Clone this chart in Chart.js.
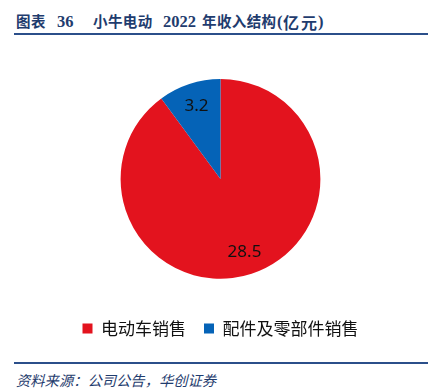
<!DOCTYPE html>
<html>
<head>
<meta charset="utf-8">
<script src="https://cdn.jsdelivr.net/npm/chart.js@4"></script>
<style>
  html, body { margin: 0; padding: 0; background: #fff; }
  body { width: 441px; height: 392px; position: relative; overflow: hidden; }
  .t {
    position: absolute; top: 10px; line-height: 22px;
    font: bold 14.5px "Noto Sans CJK SC", sans-serif;
    color: #1F3C6E; white-space: nowrap; letter-spacing: 0.4px;
  }
  .t .num { font: bold 16.5px "Liberation Serif", serif; letter-spacing: 0; }
  .rule { position: absolute; left: 14px; width: 414px; height: 2px; background: #2B4F8A; }
  .source {
    position: absolute; left: 16px; top: 369px;
    font: italic 14.3px "Noto Sans CJK SC", sans-serif;
    color: #1F3C6E; white-space: nowrap;
  }
  #wrap { position: absolute; left: 0; top: 79px; width: 441px; height: 268px; }
</style>
</head>
<body>
<div class="t" style="left:16px">图表</div>
<div class="t" style="left:57px"><span class="num">36</span></div>
<div class="t" style="left:93px">小牛电动</div>
<div class="t" style="left:163px"><span class="num">2022</span></div>
<div class="t" style="left:202px">年收入结构</div>
<div class="t" style="left:277px"><span class="num">(</span></div>
<div class="t" style="left:283px;font-size:16px;letter-spacing:2px">亿元</div>
<div class="t" style="left:318px"><span class="num">)</span></div>
<div class="rule" style="top:33px"></div>
<div id="wrap"><canvas id="pie"></canvas></div>
<div class="rule" style="top:362px"></div>
<div class="source">资料来源：公司公告，华创证券</div>
<script>
const categories = ['电动车销售', '配件及零部件销售'];
const revenue = [28.5, 3.2];
const colors = ['#E3131E', '#0563B7'];

// value labels inside each slice
const sliceLabels = {
  id: 'sliceLabels',
  afterDatasetsDraw(chart) {
    const ctx = chart.ctx;
    const meta = chart.getDatasetMeta(0);
    ctx.save();
    ctx.font = '17px "Noto Sans", sans-serif';
    ctx.fillStyle = '#111';
    ctx.textAlign = 'center';
    ctx.textBaseline = 'middle';
    meta.data.forEach((arc, i) => {
      const p = arc.getProps(['x', 'y', 'startAngle', 'endAngle', 'outerRadius'], true);
      const a = (p.startAngle + p.endAngle) / 2;
      const r = p.outerRadius * 0.77;
      ctx.fillText(String(revenue[i]), p.x + Math.cos(a) * r, p.y + Math.sin(a) * r);
    });
    ctx.restore();
  }
};

new Chart(document.getElementById('pie').getContext('2d'), {
  type: 'pie',
  data: {
    labels: categories,
    datasets: [{
      data: revenue,
      backgroundColor: colors,
      borderWidth: 0,
    }],
  },
  options: {
    responsive: true,
    maintainAspectRatio: false,
    animation: false,
    plugins: {
      legend: {
        position: 'bottom',
        // empty title used only as a spacer between pie and legend
        title: { display: true, text: '', font: { size: 1 }, padding: { top: 22, bottom: 0 } },
        labels: {
          boxWidth: 10,
          boxHeight: 10,
          padding: 18,
          color: '#111',
          font: { size: 17, family: '"Noto Sans CJK SC", sans-serif' },
        },
      },
      tooltip: { enabled: false },
    },
  },
  plugins: [sliceLabels],
});
</script>
</body>
</html>
